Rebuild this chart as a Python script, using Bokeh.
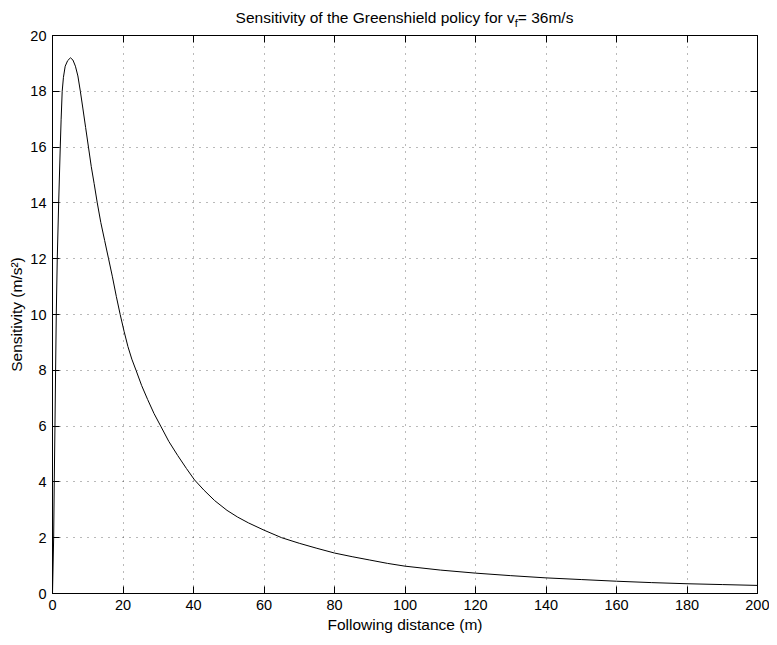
from bokeh.plotting import figure
from bokeh.models import ColumnDataSource, FixedTicker, LinearAxis, Range1d, Div
from bokeh.layouts import column
from bokeh.embed import file_html
from bokeh.resources import INLINE

# --- data ---
distance = [0, 0.33, 0.5, 0.7, 0.88, 1.07, 1.35, 1.75, 2.2, 2.45, 2.75, 3.1, 3.6, 4.3,
            5.1, 5.8, 6.5, 7.2, 7.9, 8.6, 9.4, 10.2, 11.0, 11.8, 12.7, 13.7, 14.8,
            15.9, 17.0, 18.1, 19.2, 20.3, 21.4, 22.5, 23.7, 25.3, 27.0, 28.8, 30.7,
            33.0, 35.5, 38.0, 40.3, 43, 46, 49.5, 52.5, 55.6, 60, 65, 70, 75, 80, 85,
            90, 95, 100, 110, 120, 130, 140, 150, 160, 170, 180, 190, 200]
sensitivity = [0, 2.0, 4.0, 6.0, 8.0, 10.0, 12.0, 14.0, 16.0, 17.0, 18.0, 18.5, 18.9,
               19.1, 19.2, 19.12, 18.9, 18.55, 18.0, 17.4, 16.7, 16.0, 15.3, 14.7,
               14.0, 13.3, 12.65, 12.0, 11.35, 10.65, 10.0, 9.4, 8.85, 8.4, 8.0, 7.45,
               6.95, 6.45, 6.0, 5.45, 4.95, 4.48, 4.07, 3.7, 3.33, 2.98, 2.74, 2.53,
               2.27, 2.0, 1.8, 1.62, 1.45, 1.32, 1.2, 1.08, 0.98, 0.84, 0.73, 0.64,
               0.56, 0.5, 0.44, 0.39, 0.35, 0.32, 0.29]
x_ticks = [0, 20, 40, 60, 80, 100, 120, 140, 160, 180, 200]
y_ticks = [0, 2, 4, 6, 8, 10, 12, 14, 16, 18, 20]

title_main = "Sensitivity of the Greenshield policy for v"
title_sub = "f"
title_rest = "= 36m/s"
x_label = "Following distance (m)"
y_label = "Sensitivity (m/s\u00b2)"

FONT = "Liberation Sans"
FS = "15.5px"
TICK_FS = "14.5px"

title_div = Div(
    text=('<div style="font-family:\'Liberation Sans\'; font-size:15.5px; color:black; '
          'line-height:1; text-align:center; padding-top:10px; padding-left:40px; '
          'width:769px; box-sizing:border-box; white-space:nowrap">'
          f'{title_main}<span style="font-size:11px; line-height:0; '
          f'vertical-align:-4px">{title_sub}</span>{title_rest}</div>'),
    width=769, height=27, margin=(0, 0, 0, 0),
    styles={"width": "769px", "text-align": "center"})

p = figure(width=769, height=610, output_backend="svg", toolbar_location=None,
           x_range=Range1d(0, 200), y_range=Range1d(0, 20),
           min_border_left=52, min_border_right=12, min_border_top=8,
           min_border_bottom=44, margin=(0, 0, 0, 0))
p.background_fill_color = "white"
p.border_fill_color = "white"
p.outline_line_color = "black"
p.outline_line_width = 1

src = ColumnDataSource(dict(x=distance, y=sensitivity))
p.line("x", "y", source=src, line_color="black", line_width=1)

xt = FixedTicker(ticks=x_ticks, minor_ticks=[])
yt = FixedTicker(ticks=y_ticks, minor_ticks=[])

def style_axis(ax, ticker, show_labels=True):
    ax.ticker = ticker
    ax.axis_line_color = "black"
    ax.major_tick_line_color = "black"
    ax.major_tick_in = 7
    ax.major_tick_out = 0
    ax.minor_tick_line_color = None
    ax.major_label_text_font = FONT
    ax.major_label_text_font_size = TICK_FS if show_labels else "0px"
    ax.major_label_text_color = "black" if show_labels else None
    ax.axis_label_text_font = FONT
    ax.axis_label_text_font_size = FS
    ax.axis_label_text_font_style = "normal"
    ax.axis_label_text_color = "black"

style_axis(p.xaxis[0], xt)
style_axis(p.yaxis[0], yt)
p.xaxis[0].axis_label = x_label
p.yaxis[0].axis_label = y_label
p.xaxis[0].major_label_standoff = 6
p.xaxis[0].axis_label_standoff = 3
p.yaxis[0].major_label_standoff = 6
p.yaxis[0].axis_label_standoff = 2

top_axis = LinearAxis()
style_axis(top_axis, xt, show_labels=False)
top_axis.major_label_standoff = 0
p.add_layout(top_axis, "above")
right_axis = LinearAxis()
style_axis(right_axis, yt, show_labels=False)
right_axis.major_label_standoff = 0
p.add_layout(right_axis, "right")

for g, t in ((p.xgrid[0], xt), (p.ygrid[0], yt)):
    g.ticker = t
    g.grid_line_color = "black"
    g.grid_line_alpha = 0.55
    g.grid_line_dash = "1 6"
    g.grid_line_width = 1

layout = column(title_div, p, spacing=0)
open("out.html", "w").write(file_html(layout, INLINE))
